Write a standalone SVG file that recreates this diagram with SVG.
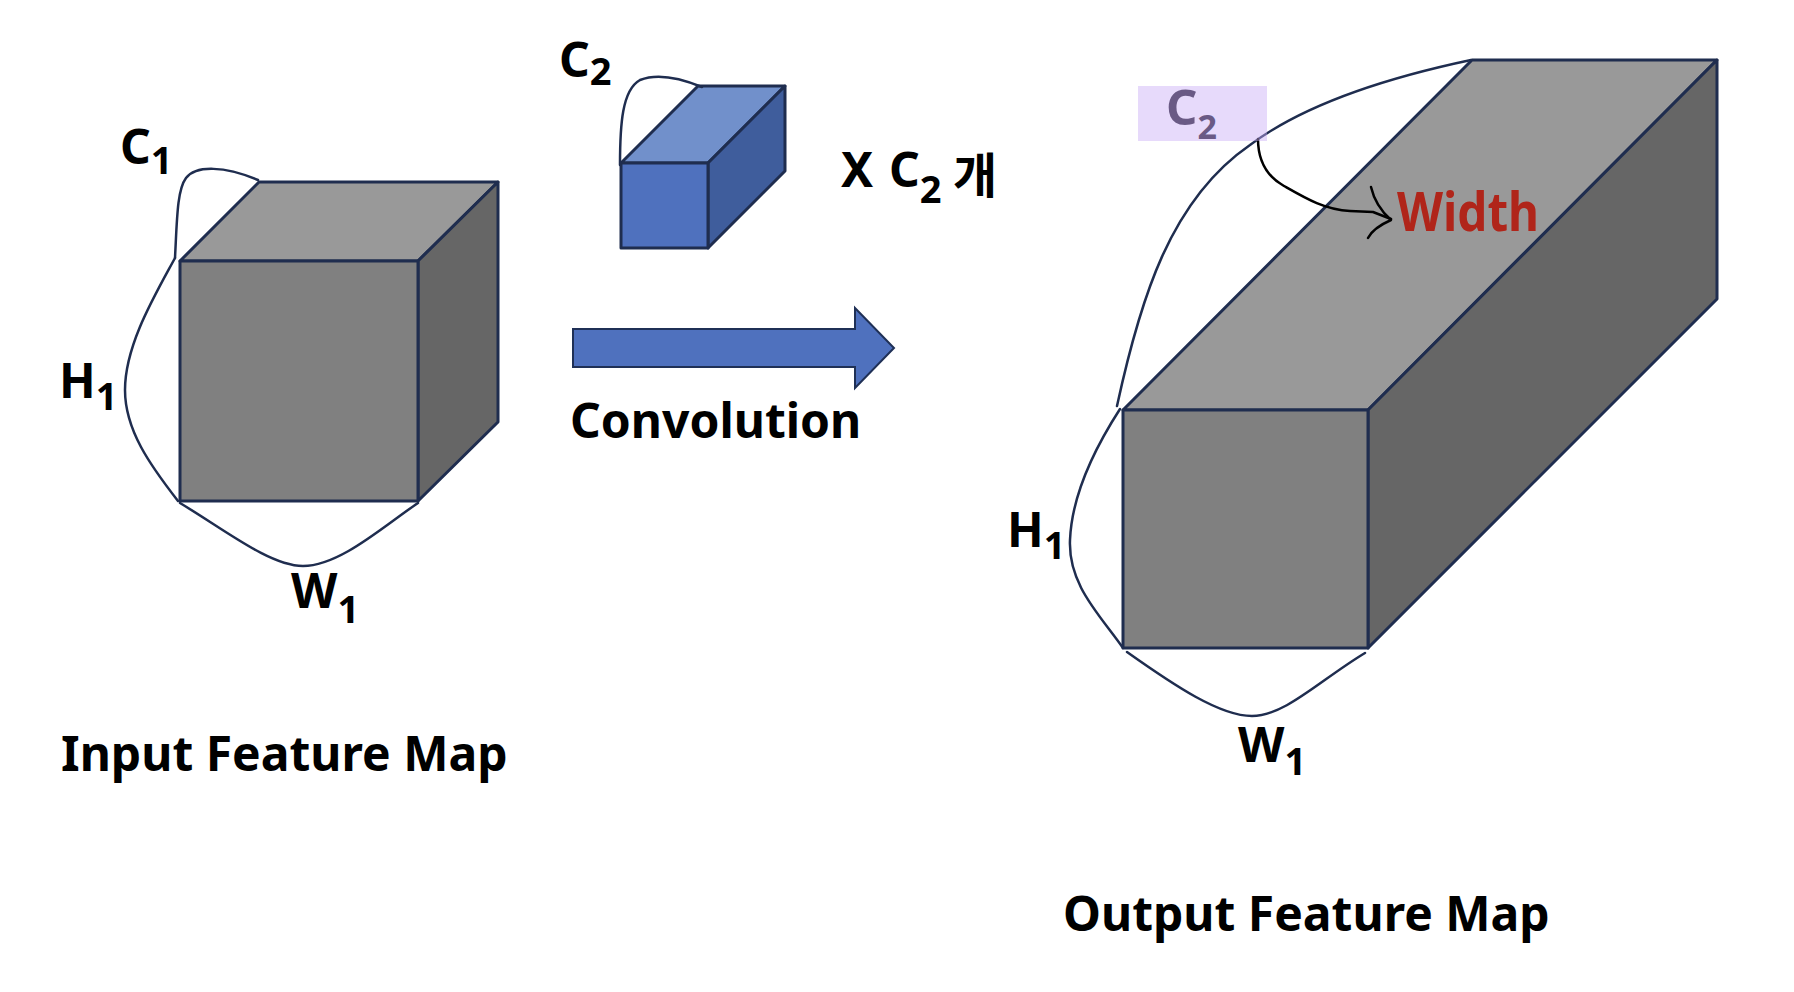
<svg xmlns="http://www.w3.org/2000/svg" width="1794" height="992" viewBox="0 0 1794 992">
<style>
.face{stroke:#1F2D4F;stroke-width:3;stroke-linejoin:round}
.front{fill:#808080}.top{fill:#999999}.side{fill:#666666}
.bfront{fill:#4F71BE}.btop{fill:#7190CB}.bside{fill:#3F5D9C}
.brk{fill:none;stroke:#1F2D4F;stroke-width:2.5;stroke-linecap:round}
.lbl{font-family:"Noto Sans","Noto Sans CJK KR",sans-serif;font-weight:700;font-size:48px;fill:#000}
.sub{font-size:38px}
.pen{fill:none;stroke:#000;stroke-width:2.5;stroke-linecap:round;stroke-linejoin:round}
</style>
<rect width="1794" height="992" fill="#fff"/>

<g id="input-cube">
<polygon class="face top" points="180,261 259,182 498,182 418,261"/>
<polygon class="face side" points="418,261 498,182 498,422 418,501"/>
<rect class="face front" x="180" y="261" width="238" height="240"/>
</g>

<g id="filter-cube">
<polygon class="face btop" points="621,163 698,86 785,86 708,163"/>
<polygon class="face bside" points="708,163 785,86 785,171 708,248"/>
<rect class="face bfront" x="621" y="163" width="87" height="85"/>
</g>

<g id="output-cube">
<polygon class="face top" points="1123,410 1472,60 1717,60 1368,410"/>
<polygon class="face side" points="1368,410 1717,60 1717,299 1368,648"/>
<rect class="face front" x="1123" y="410" width="245" height="238"/>
</g>

<g id="conv-arrow">
<polygon points="573,329 855,329 855,308 894,348 855,388 855,367 573,367" fill="#4F71BE" stroke="#1F3056" stroke-width="2" stroke-linejoin="miter"/>
</g>

<g id="connectors">
<path class="brk" d="M175,258 C177,220 177,190 186,178 C196,165 225,166 258,180"/>
<path class="brk" d="M175,258 C155,295 125,345 125,390 C125,430 150,465 178,501"/>
<path class="brk" d="M180,503 C225,530 270,566 303,566 C340,566 385,525 418,503"/>
<path class="brk" d="M620,165 C620,125 622,90 640,80 C660,72 685,80 702,87"/>
<path class="brk" d="M1117,406 C1140,300 1170,200 1250,145 C1310,100 1400,75 1471,60"/>
<path class="brk" d="M1120,409 C1100,440 1072,490 1070,540 C1068,585 1100,615 1123,648"/>
<path class="brk" d="M1127,652 C1175,686 1220,716 1252,716 C1285,716 1320,680 1365,653"/>
<path class="pen" d="M1258,139 C1258,162 1268,177 1284,186 C1305,198 1325,210 1350,211 L1373,212 L1391,219"/>
<path class="pen" d="M1371,187 C1374,200 1382,212 1391,220 C1382,224 1372,230 1368,238"/>
</g>

<g id="highlight">
<rect x="1138" y="86" width="129" height="55" fill="#C9ADF7" fill-opacity="0.45"/>
</g>

<g id="labels">
<text class="lbl" x="120" y="164">C<tspan class="sub" dy="10">1</tspan></text>
<text class="lbl" x="59" y="398">H<tspan class="sub" dy="12">1</tspan></text>
<text class="lbl" x="291" y="608">W<tspan class="sub" dy="15">1</tspan></text>
<text class="lbl" x="559" y="77">C<tspan class="sub" dy="8">2</tspan></text>
<text class="lbl" x="841" y="187">X</text>
<text class="lbl" x="889" y="187">C<tspan class="sub" dy="16">2</tspan></text>
<text class="lbl" x="953" y="193">개</text>
<text class="lbl" x="570" y="438">Convolution</text>
<text class="lbl" x="1007" y="547">H<tspan class="sub" dy="12">1</tspan></text>
<text class="lbl" x="1238" y="762">W<tspan class="sub" dy="13">1</tspan></text>
<text class="lbl" x="1166" y="125" style="font-size:49px;fill:#6A5A85">C<tspan style="font-size:34px" dy="14">2</tspan></text>
<text class="lbl" x="1397" y="231" style="font-size:53px;fill:#B0251A" textLength="142" lengthAdjust="spacingAndGlyphs">Width</text>
<text class="lbl" x="61" y="771">Input Feature Map</text>
<text class="lbl" x="1063" y="931">Output Feature Map</text>
</g>
</svg>
